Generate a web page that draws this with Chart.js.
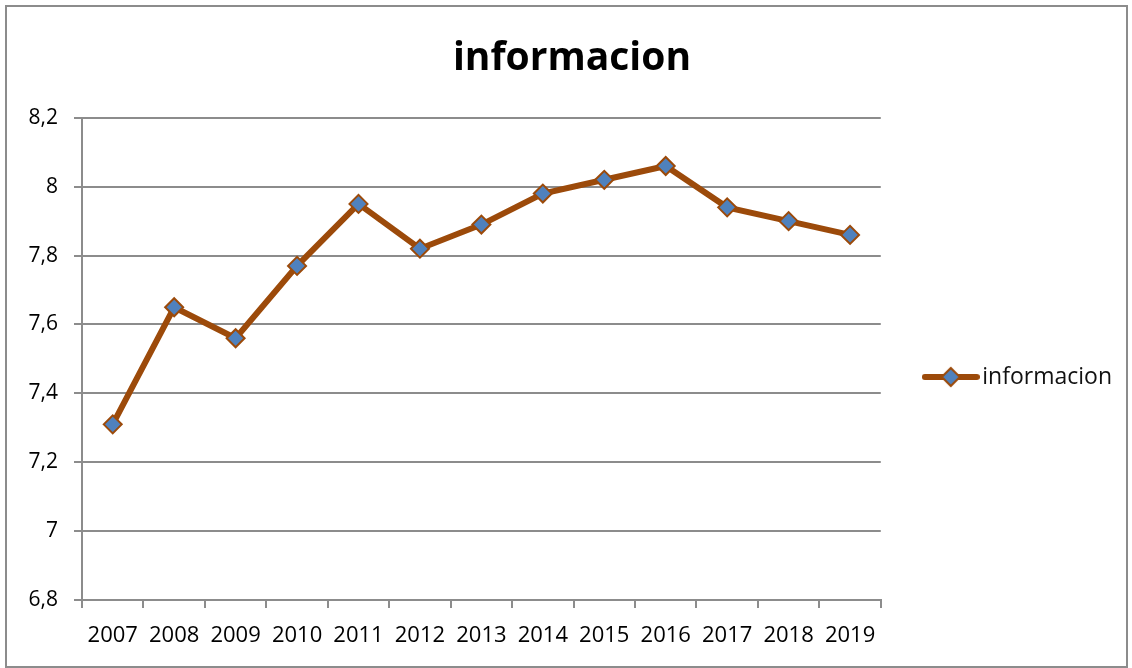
<!DOCTYPE html>
<html>
<head>
<meta charset="utf-8">
<script src="https://cdn.jsdelivr.net/npm/chart.js@4/dist/chart.umd.min.js"></script>
<style>
  body { margin: 0; background: #fff; }
  #wrap { position: absolute; left: 0; top: 0; width: 1132px; height: 668px; }
  #frame { position: absolute; left: 5px; top: 5px; width: 1119px; height: 659px; border: 2px solid #8c8c8c; pointer-events: none; }
</style>
</head>
<body>
<div id="wrap"><canvas id="chart"></canvas></div>
<div id="frame"></div>
<script>
const years = ["2007", "2008", "2009", "2010", "2011", "2012", "2013", "2014", "2015", "2016", "2017", "2018", "2019"];
const informacion = [7.31, 7.65, 7.56, 7.77, 7.95, 7.82, 7.89, 7.98, 8.02, 8.06, 7.94, 7.90, 7.86];

const brown = "#9c4a0a";
const blue = "#4f81bd";
const grey = "#8c8c8c";

// legend symbol: line with a diamond in the middle
const legendIcon = document.createElement("canvas");
legendIcon.width = 58;
legendIcon.height = 24;
const ic = legendIcon.getContext("2d");
ic.strokeStyle = brown;
ic.lineWidth = 6;
ic.lineCap = "round";
ic.beginPath();
ic.moveTo(3, 12);
ic.lineTo(55, 12);
ic.stroke();
ic.beginPath();
ic.moveTo(29 - 9, 12);
ic.lineTo(29, 12 - 9);
ic.lineTo(29 + 9, 12);
ic.lineTo(29, 12 + 9);
ic.closePath();
ic.fillStyle = blue;
ic.fill();
ic.lineWidth = 2;
ic.stroke();

function fmt(v) {
  return Number.isInteger(Math.round(v * 10) / 10) ? String(Math.round(v)) : v.toFixed(1).replace(".", ",");
}

new Chart(document.getElementById("chart"), {
  type: "line",
  data: {
    labels: years,
    datasets: [{
      label: "informacion",
      data: informacion,
      borderColor: brown,
      borderWidth: 6,
      backgroundColor: blue,
      pointStyle: "rectRot",
      pointRadius: 9,
      pointBorderWidth: 2,
      pointBorderColor: brown,
      pointBackgroundColor: blue,
      tension: 0
    }]
  },
  options: {
    responsive: true,
    maintainAspectRatio: false,
    animation: false,
    layout: { padding: { left: 22, right: 10, top: 0, bottom: 0 } },
    plugins: {
      title: {
        display: true,
        text: "informacion",
        color: "#000",
        font: { family: "Open Sans", size: 39, weight: "bold" },
        padding: { top: 35, bottom: 36 }
      },
      legend: {
        position: "right",
        title: { display: true, text: "", font: { size: 10 }, padding: { top: 74, bottom: 0 } },
        labels: {
          usePointStyle: true,
          pointStyle: legendIcon,
          pointStyleWidth: 40,
          color: "#111",
          font: { family: "Open Sans", size: 23 },
          padding: 50
        }
      },
      tooltip: { enabled: false }
    },
    scales: {
      x: {
        offset: true,
        border: { color: grey, width: 2 },
        grid: { offset: true, drawOnChartArea: false, drawTicks: true, tickLength: 8, color: grey, lineWidth: 2 },
        ticks: { color: "#000", font: { family: "Open Sans", size: 22 }, padding: 15, maxRotation: 0, autoSkip: false },
        afterFit: function (scale) { scale.height = 68; }
      },
      y: {
        min: 6.8,
        max: 8.2,
        border: { color: grey, width: 2 },
        grid: { color: grey, lineWidth: 2, tickLength: 8 },
        ticks: { stepSize: 0.2, color: "#000", font: { family: "Open Sans", size: 21 }, padding: 16, callback: v => fmt(v) },
        afterFit: function (scale) { scale.width = 60; }
      }
    }
  }
});
</script>
</body>
</html>
